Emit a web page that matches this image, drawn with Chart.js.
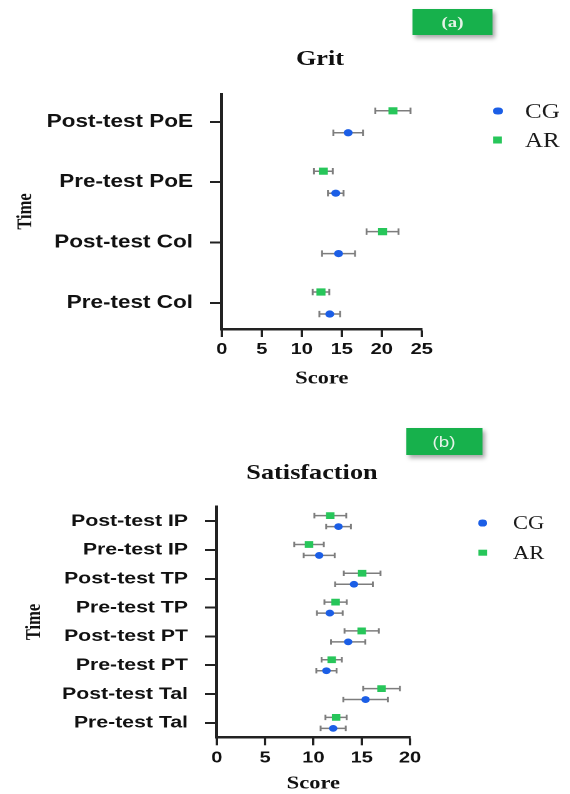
<!DOCTYPE html>
<html>
<head>
<meta charset="utf-8">
<script src="https://cdn.jsdelivr.net/npm/chart.js@4.4.1/dist/chart.umd.min.js"></script>
<style>
  html, body { margin: 0; padding: 0; background: #fff; overflow: hidden; }
  body { width: 570px; height: 794px; }
  #page { position: absolute; left: 0; top: 0; width: 456px; height: 794px; transform: scaleX(1.25); transform-origin: 0 0; }
  .box { position: absolute; }
  .title { position: absolute; transform: translate(-50%, -50%); white-space: nowrap; line-height: 1;
           font-family: "Liberation Serif", "Times New Roman", serif; font-weight: bold; color: #111; font-size: 21px; }
  .badge { position: absolute; background: #17b14c; box-shadow: 2px 3px 4px rgba(0,0,0,0.35);
           display: flex; align-items: center; justify-content: center; color: #e6f3e8; font-weight: bold; font-size: 15px; }
  .leg { position: absolute; font-family: "Liberation Serif", "Times New Roman", serif; color: #1a1a1a; line-height: 1; white-space: nowrap; transform: translateY(-50%); }
  .mk { position: absolute; transform: translate(-50%, -50%); }
</style>
</head>
<body>
<div id="page">
  <div class="badge" style="left:330px; top:9px; width:64px; height:26px; font-family:'Liberation Serif',serif;">(a)</div>
  <div class="title" style="left:256px; top:58px;">Grit</div>
  <div class="box" style="left:0; top:60px; width:456px; height:340px;"><canvas id="c1"></canvas></div>
  <div id="leg1"></div>

  <div class="badge" style="left:325px; top:428px; width:60.5px; height:27px; font-family:'Liberation Sans',Arial,sans-serif; font-weight:normal;">(b)</div>
  <div class="title" style="left:249.6px; top:472px;">Satisfaction</div>
  <div class="box" style="left:0; top:478px; width:456px; height:320px;"><canvas id="c2"></canvas></div>
  <div id="leg2"></div>
</div>
<script>
// ---------- data ----------
const gritCategories = ['Post-test PoE', 'Pre-test PoE', 'Post-test Col', 'Pre-test Col'];
const gritCG    = [15.8, 14.25, 14.6, 13.5];
const gritCGErr = [1.85, 0.98, 2.06, 1.3];
const gritAR    = [21.4, 12.7, 20.1, 12.4];
const gritARErr = [2.2, 1.17, 2.0, 1.04];
const gritXTicks = [0, 5, 10, 15, 20, 25];

const satCategories = ['Post-test IP', 'Pre-test IP', 'Post-test TP', 'Pre-test TP',
                       'Post-test PT', 'Pre-test PT', 'Post-test Tal', 'Pre-test Tal'];
const satCG    = [12.6, 10.6, 14.2, 11.7, 13.6, 11.35, 15.4, 12.05];
const satCGErr = [1.28, 1.6, 1.95, 1.33, 1.78, 1.05, 2.3, 1.3];
const satAR    = [11.75, 9.55, 15.05, 12.3, 15.0, 11.9, 17.05, 12.35];
const satARErr = [1.65, 1.53, 1.9, 1.16, 1.78, 1.05, 1.9, 1.1];
const satXTicks = [0, 5, 10, 15, 20];

const seriesNames = ['CG', 'AR'];
const BLUE = '#1b5ee6';
const GREEN = '#27c65a';

// ---------- error bar plugin ----------
const errorBars = {
  id: 'errorBars',
  beforeDatasetsDraw(chart, args, opts) {
    const ctx = chart.ctx;
    const xs = chart.scales.x;
    chart.data.datasets.forEach((ds, di) => {
      const meta = chart.getDatasetMeta(di);
      meta.data.forEach((pt, i) => {
        const v = ds.data[i].x, e = ds.errors[i];
        const x1 = xs.getPixelForValue(v - e), x2 = xs.getPixelForValue(v + e), y = pt.y;
        const c = opts.cap;
        ctx.save();
        ctx.strokeStyle = opts.color;
        ctx.lineWidth = opts.width;
        ctx.beginPath();
        ctx.moveTo(x1, y); ctx.lineTo(x2, y);
        ctx.moveTo(x1, y - c); ctx.lineTo(x1, y + c);
        ctx.moveTo(x2, y - c); ctx.lineTo(x2, y + c);
        ctx.stroke();
        ctx.restore();
      });
    });
  }
};

function makeChart(id, cfg) {
  const n = cfg.categories.length;
  const OFF = cfg.offset;
  const pts = (vals, sign) => vals.map((v, i) => ({ x: v, y: (n - 1 - i) + sign * OFF }));
  return new Chart(document.getElementById(id), {
    type: 'scatter',
    data: {
      datasets: [
        { label: seriesNames[0], data: pts(cfg.cg, -1), errors: cfg.cgErr,
          pointStyle: 'circle', pointRadius: cfg.dotR, pointHoverRadius: cfg.dotR,
          backgroundColor: BLUE, borderWidth: 0 },
        { label: seriesNames[1], data: pts(cfg.ar, 1), errors: cfg.arErr,
          pointStyle: 'rect', pointRadius: cfg.rectR, pointHoverRadius: cfg.rectR,
          backgroundColor: GREEN, borderWidth: 0 }
      ]
    },
    options: {
      responsive: true,
      maintainAspectRatio: false,
      animation: false,
      devicePixelRatio: 2,
      layout: { padding: cfg.padding },
      plugins: {
        legend: { display: false },
        tooltip: { enabled: false },
        errorBars: { color: '#7d7d7d', width: 1.5, cap: cfg.cap }
      },
      scales: {
        x: {
          type: 'linear', min: cfg.xTicks[0], max: cfg.xTicks[cfg.xTicks.length - 1],
          afterBuildTicks: s => { s.ticks = cfg.xTicks.map(v => ({ value: v })); },
          afterFit: s => { s.height = cfg.xH; },
          grid: { display: true, drawOnChartArea: false, drawTicks: true, tickLength: 8, tickWidth: 2, tickColor: '#222' },
          border: { display: true, color: '#222', width: 2.5 },
          ticks: { color: '#111', padding: 3, font: { family: 'Liberation Sans', weight: 'bold', size: 16 }, maxRotation: 0 },
          title: { display: true, text: 'Score', color: '#111', padding: { top: 0, bottom: cfg.xTitlePad },
                   font: { family: 'Liberation Serif', weight: 'bold', size: 18 } }
        },
        y: {
          type: 'linear', min: cfg.yMin, max: cfg.yMax,
          afterBuildTicks: s => { s.ticks = cfg.categories.map((c, i) => ({ value: i })); },
          afterFit: s => { s.width = cfg.yW; },
          grid: { display: true, drawOnChartArea: false, drawTicks: true, tickLength: 9.4, tickWidth: 2, tickColor: '#222' },
          border: { display: true, color: '#222', width: 2.5 },
          ticks: { color: '#111', padding: 13.6, autoSkip: false,
                   font: { family: 'Liberation Sans', weight: 'bold', size: cfg.yFont },
                   callback: v => cfg.categories[n - 1 - v] },
          title: { display: true, text: 'Time', color: '#111', padding: { top: cfg.yTitlePad, bottom: 0 },
                   font: { family: 'Liberation Serif', weight: 'bold', size: 16.5 } }
        }
      }
    },
    plugins: [errorBars]
  });
}

makeChart('c1', {
  categories: gritCategories, cg: gritCG, cgErr: gritCGErr, ar: gritAR, arErr: gritARErr,
  xTicks: gritXTicks, offset: 0.182, dotR: 3.6, rectR: 5.1, cap: 3.2,
  yMin: -0.43, yMax: 3.46, yW: 177.4, xH: 70, xTitlePad: 9.2, yTitlePad: 11, yFont: 18,
  padding: { left: 0, right: 118.6, top: 34, bottom: 1 }
});

makeChart('c2', {
  categories: satCategories, cg: satCG, cgErr: satCGErr, ar: satAR, arErr: satARErr,
  xTicks: satXTicks, offset: 0.19, dotR: 3.4, rectR: 4.8, cap: 2.7,
  yMin: -0.5, yMax: 7.5, yW: 173.4, xH: 57.5, xTitlePad: 0, yTitlePad: 18, yFont: 17,
  padding: { left: 0, right: 128, top: 28.7, bottom: 3.2 }
});

// ---------- legends ----------
function legend(id, mx, tx, ys, fontSize, dot, sq) {
  const el = document.getElementById(id);
  const colors = [BLUE, GREEN];
  seriesNames.forEach((name, i) => {
    const m = document.createElement('div');
    m.className = 'mk';
    const s = i === 0 ? dot : sq;
    m.style.cssText += `left:${mx}px; top:${ys[i]}px; width:${s}px; height:${s}px; background:${colors[i]};` +
      (i === 0 ? 'border-radius:50%;' : '');
    el.appendChild(m);
    const t = document.createElement('div');
    t.className = 'leg';
    t.textContent = name;
    t.style.cssText += `left:${tx}px; top:${ys[i]}px; font-size:${fontSize}px;`;
    el.appendChild(t);
  });
}
legend('leg1', 398.4, 420, [110.5, 139.5], 20, 7.2, 7);
legend('leg2', 386.4, 410.4, [523, 552.5], 18, 6.8, 6.6);
</script>
</body>
</html>
